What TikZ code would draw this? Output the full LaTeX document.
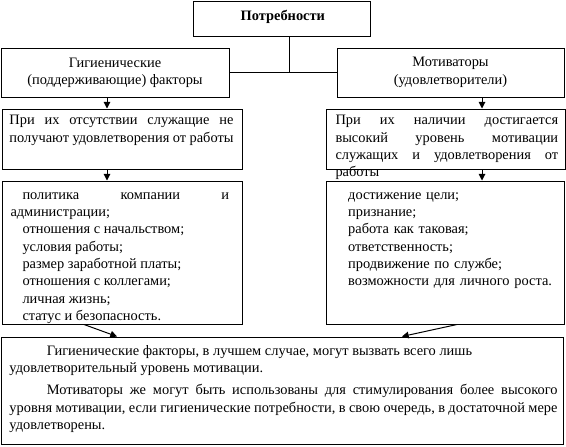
\documentclass[tikz,border=0pt]{standalone}
\usepackage{fontspec}
\setmainfont{Liberation Serif}
\usetikzlibrary{arrows.meta,fit}
\begin{document}
\begin{tikzpicture}[x=0.75pt,y=-0.75pt,line width=0.75pt,
  box/.style={draw,rectangle,inner sep=0pt},
  ctext/.style={align=center,inner sep=0pt,font=\fontsize{10.8}{13}\selectfont},
  txt/.style={inner sep=0pt,anchor=north west,align=justify,font=\fontsize{10.8}{13}\selectfont},
  arr/.style={-{Triangle[length=5pt,width=5pt]}}]
\useasboundingbox (0,0) rectangle (566,446);
% boxes
\node[box,fit={(193,1) (370,36)}] (top) {};
\node[box,fit={(1,48) (229,97)}] (L1) {};
\node[box,fit={(337,48) (564,97)}] (R1) {};
\node[box,fit={(2,109) (242,169)}] (L2) {};
\node[box,fit={(326,109) (565,169)}] (R2) {};
\node[box,fit={(2,181) (242,324)}] (L3) {};
\node[box,fit={(326,181) (564,324)}] (R3) {};
\node[box,fit={(1,337) (563,444)}] (B) {};
% texts
\node[ctext,font=\bfseries\fontsize{10.8}{13}\selectfont] (topt) at ([xshift=1pt,yshift=1pt]top.center) {Потребности};
\node[ctext] (L1t) at (L1.center) {Гигиенические\\(поддерживающие) факторы};
\node[ctext] (R1t) at (R1.center) {Мотиваторы\\(удовлетворители)};
\node[txt,text width=168pt] (L2t) at (9,115) {При их отсутствии служащие не\linebreak получают удовлетворения от работы};
\node[txt,text width=167pt] (R2t) at (335,115) {При их наличии достигается\linebreak высокий уровень мотивации\linebreak служащих и удовлетворения от\linebreak работы};
\node[txt,text width=164pt] (L3t) at (10,192) {\hspace*{9pt}политика компании и\linebreak администрации;\\
\hspace*{9pt}отношения с начальством;\\
\hspace*{9pt}условия работы;\\
\hspace*{9pt}размер заработной платы;\\
\hspace*{9pt}отношения с коллегами;\\
\hspace*{9pt}личная жизнь;\\
\hspace*{9pt}статус и безопасность.};
\node[txt,text width=200pt,align=left] (R3t) at (337,192) {\hspace*{8pt}достижение цели;\\
\hspace*{8pt}признание;\\
\hspace*{8pt}работа как таковая;\\
\hspace*{8pt}ответственность;\\
\hspace*{8pt}продвижение по службе;\\
\hspace*{8pt}возможности для личного роста.};
\node[txt,text width=411pt] (Bt) at (9,345) {\hspace*{28pt}Гигиенические факторы, в лучшем случае, могут вызвать всего лишь\\
удовлетворительный уровень мотивации.\par\vspace{3.5pt}
\hspace*{28pt}Мотиваторы же могут быть использованы для стимулирования более высокого\linebreak
уровня мотивации, если гигиенические потребности, в свою очередь, в достаточной мере\linebreak
удовлетворены.};
% connectors
\coordinate (xv) at (289,0);
\coordinate (xl) at (107,0);
\coordinate (xr) at (482,0);
\coordinate (xa) at (84,0);
\coordinate (xb) at (117,0);
\coordinate (xc) at (457,0);
\coordinate (xd) at (402,0);
\coordinate (j) at (L1.east -| xv);
\draw (top.south -| xv) -- (j);
\draw (L1.east) -- (R1.west);
\draw[arr] (L1.south -| xl) -- (L2.north -| xl);
\draw[arr] (R1.south -| xr) -- (R2.north -| xr);
\draw[arr] (L2.south -| xl) -- (L3.north -| xl);
\draw[arr] (R2.south -| xr) -- (R3.north -| xr);
\draw[arr] (L3.south -| xa) -- (B.north -| xb);
\draw[arr] (R3.south -| xc) -- (B.north -| xd);
\end{tikzpicture}
\end{document}
